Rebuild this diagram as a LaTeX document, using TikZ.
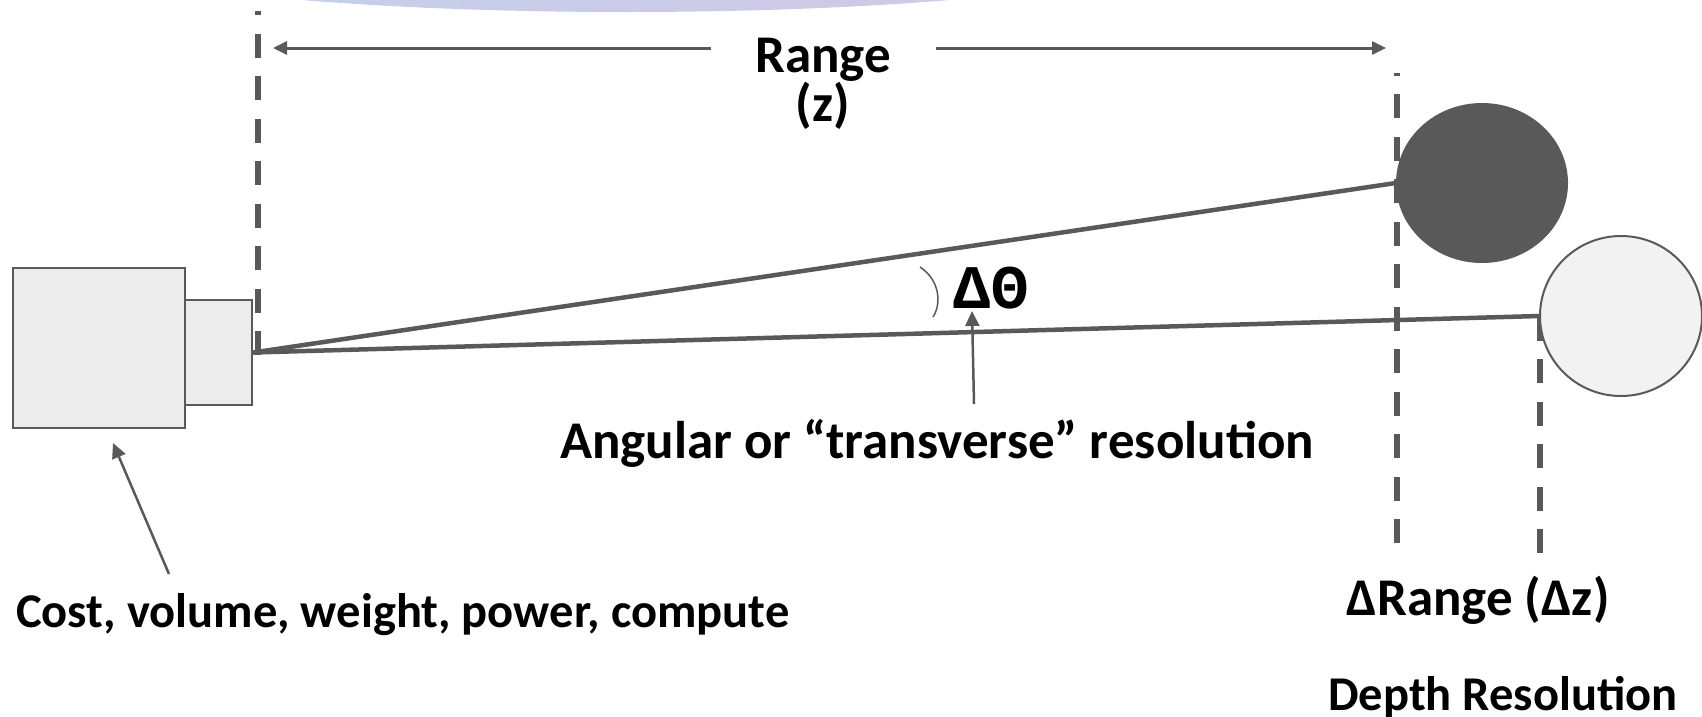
\documentclass[tikz,border=0pt]{standalone}
\usepackage{fontspec}
\setmainfont{Carlito}
\newfontfamily\monof{Liberation Mono}
\usetikzlibrary{shapes.geometric,arrows.meta}
\definecolor{dg}{HTML}{595959}
\definecolor{boxc}{HTML}{ECECEC}
\definecolor{lightc}{HTML}{F2F2F2}
\definecolor{skyL}{HTML}{C2D3EC}
\definecolor{skyM}{HTML}{C9CBE8}
\definecolor{skyR}{HTML}{D4C9E3}
\begin{document}
\begin{tikzpicture}[x=1pt,y=-1pt,
  lbl/.style={font=\fontsize{53}{60}\selectfont\bfseries, inner sep=0pt},
  lbls/.style={font=\fontsize{48.5}{56}\selectfont\bfseries, inner sep=0pt},
  dline/.style={dg, line width=5.5pt, dash pattern=on 24pt off 18.5pt},
  ray/.style={dg, line width=4.5pt},
  ptr/.style={dg, line width=2.5pt, -{Triangle[length=15pt,width=14pt]}},
  rptr/.style={dg, line width=3pt, -{Triangle[length=14pt,width=13pt]}},
  box/.style={draw=dg, fill=boxc, line width=2pt, inner sep=0pt},
]
\useasboundingbox (0,0) rectangle (1702,716);
% top shaded arc
\begin{scope}
  \clip (0,0) rectangle (1702,716);
  \clip (626,-48) ellipse [x radius=540pt, y radius=60pt];
  \shade[left color=skyL, right color=skyR, middle color=skyM] (86,-120) rectangle (1166,20);
\end{scope}
% dashed guides
\coordinate (d1b) at (258,355); \coordinate (d1t) at (258,11);
\coordinate (d2b) at (1397,543); \coordinate (d2t) at (1397,73);
\coordinate (d3b) at (1540,553); \coordinate (d3t) at (1540,316);
\draw[dline] (d1b) -- (d1t);
\draw[dline] (d2b) -- (d2t);
\draw[dline] (d3b) -- (d3t);
% camera
\node[box, minimum width=172pt, minimum height=160pt] (body) at (99,348) {};
\node[box, minimum width=67pt, minimum height=105pt] (lens) at (218.5,352.5) {};
% targets
\node[ellipse, fill=dg, inner sep=0pt, minimum width=172pt, minimum height=160pt] (dark) at (1482,183) {};
\node[ellipse, draw=dg, fill=lightc, line width=2pt, inner sep=0pt, minimum width=162pt, minimum height=160pt] (light) at (1621,316) {};
% rays
\draw[ray] (lens.east) -- (dark.west);
\draw[ray] (lens.east) -- (light.west);
% range
\node[lbl, anchor=base] (range) at (823,72) {Range};
\node[lbl, anchor=base] (rangez) at (823,121) {(z)};
\coordinate (rl) at (711,48); \coordinate (rlt) at (273,48);
\coordinate (rr) at (936,48); \coordinate (rrt) at (1386,48);
\draw[rptr] (rl) -- (rlt);
\draw[rptr] (rr) -- (rrt);
% angle
\draw[dg, line width=1.5pt] (920,267) .. controls (941,281) and (941,305) .. (933,317);
\node[font=\monof\bfseries\fontsize{62}{62}\selectfont, inner sep=0pt, anchor=base] (dtheta) at (991,308) {ΔΘ};
\coordinate (atail) at (974,404); \coordinate (atip) at (972,311);
\draw[ptr] (atail) -- (atip);
\node[lbl, anchor=base] (angular) at (937,458) {Angular or “transverse” resolution};
% cost
\node[lbls, anchor=base west] (cost) at (16,627) {Cost, volume, weight, power, compute};
\coordinate (ctail) at (169,574); \coordinate (ctip) at (113,443);
\draw[ptr] (ctail) -- (ctip);
% depth
\node[lbl, anchor=base] (drange) at (1478,615) {ΔRange (Δz)};
\node[lbls, anchor=base] (depth) at (1503,710) {Depth Resolution};
\end{tikzpicture}
\end{document}
